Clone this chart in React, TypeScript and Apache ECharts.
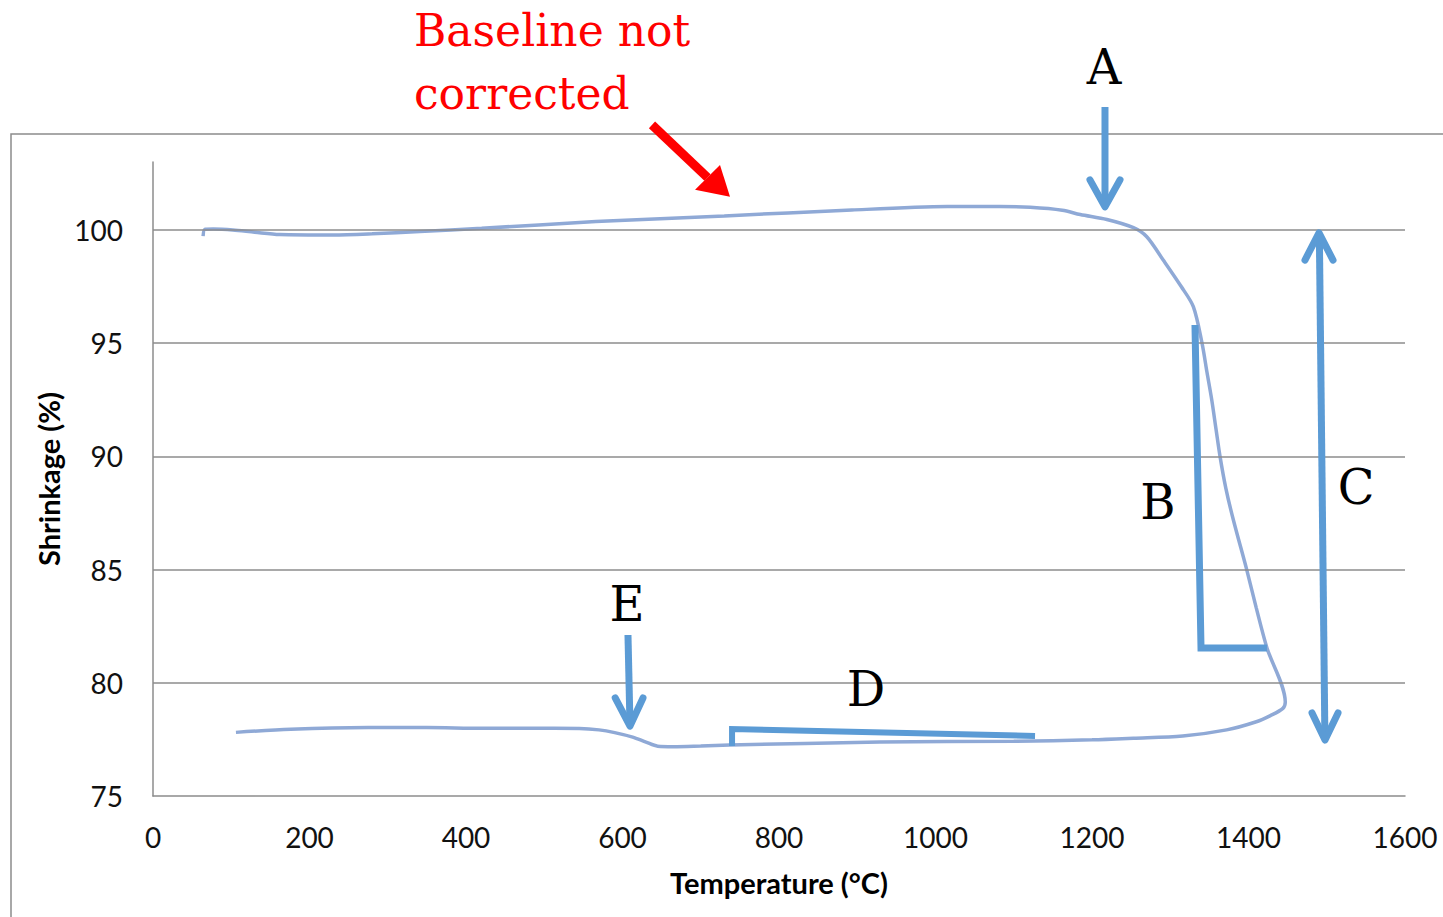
import React, { useEffect, useRef } from 'react';
import * as echarts from 'echarts';

// Heating branch (temperature °C, shrinkage %)
const heatingTemp = [64, 66.5, 77, 102, 130, 162, 230, 280, 341, 420, 566, 730, 893, 1015, 1082, 1121, 1162, 1185, 1219, 1253, 1270, 1291, 1314, 1329.5, 1340.6, 1347, 1353, 1358.5, 1363.6, 1371, 1380.6, 1397.7, 1410, 1423.6, 1447];
const heatingShrink = [99.73, 100.03, 100.04, 100.0, 99.9, 99.8, 99.78, 99.83, 99.93, 100.07, 100.37, 100.62, 100.88, 101.03, 101.04, 101.0, 100.87, 100.68, 100.46, 100.1, 99.7, 98.67, 97.5, 96.61, 95.0, 93.7, 92.5, 91.2, 90.0, 88.6, 87.2, 85.0, 83.3, 81.54, 79.15];
// Cooling branch
const coolingTemp = [1444, 1428, 1410, 1372, 1316, 1253, 1200, 1100, 929, 737, 700, 665, 645, 630, 613, 590, 570, 545, 480, 421, 350, 275, 176, 106];
const coolingShrink = [78.87, 78.55, 78.28, 77.92, 77.65, 77.55, 77.48, 77.42, 77.38, 77.25, 77.21, 77.18, 77.2, 77.38, 77.6, 77.8, 77.92, 77.98, 77.99, 77.99, 78.02, 78.02, 77.95, 77.81];

const gridLevels = [80, 85, 90, 95, 100];

// Annotation letters: [label, temperature, shrinkage]
const letterLabels = ['A', 'B', 'C', 'D', 'E'];
const letterTemp = [1215.3, 1284.3, 1537.4, 911.2, 605.8];
const letterShrink = [107.2, 87.99, 88.65, 79.73, 83.48];

const BLUE = '#5B9BD5';
const CURVE = '#8FA9D6';
const GRID = '#8C8C8C';

export default function App() {
  const ref = useRef<HTMLDivElement>(null);
  useEffect(() => {
    document.body.style.margin = '0';
    const chart = echarts.init(ref.current!, null, { renderer: 'svg' });
    const curve = [
      ...heatingTemp.map((t, i) => [t, heatingShrink[i]]),
      ...coolingTemp.map((t, i) => [t, coolingShrink[i]]),
    ];
    chart.setOption({
      animation: false,
      backgroundColor: '#ffffff',
      grid: { left: 153, right: 38, top: 162, bottom: 121 },
      xAxis: {
        type: 'value',
        min: 0,
        max: 1600,
        interval: 200,
        name: 'Temperature (°C)',
        nameLocation: 'middle',
        nameGap: 72,
        nameTextStyle: { fontFamily: 'Lato', fontWeight: 'bold', fontSize: 29, color: '#000' },
        axisLine: { show: true, lineStyle: { color: GRID, width: 1.5 } },
        axisTick: { show: false },
        splitLine: { show: false },
        axisLabel: { fontFamily: 'Lato', fontSize: 28, color: '#111', margin: 27, formatter: (v: number) => String(v) },
      },
      yAxis: {
        type: 'value',
        min: 75,
        max: 103,
        interval: 5,
        name: 'Shrinkage (%)',
        nameLocation: 'middle',
        nameGap: 79,
        nameTextStyle: { fontFamily: 'Lato', fontWeight: 'bold', fontSize: 29, color: '#000' },
        axisLine: { show: true, lineStyle: { color: GRID, width: 1.5 } },
        axisTick: { show: false },
        splitLine: { show: false },
        axisLabel: {
          fontFamily: 'Lato',
          fontSize: 28,
          color: '#111',
          margin: 30,
          formatter: (v: number) => (v % 5 === 0 ? String(v) : ''),
        },
      },
      series: [
        {
          type: 'line',
          data: [],
          z: 1,
          silent: true,
          markLine: {
            silent: true,
            symbol: ['none', 'none'],
            label: { show: false },
            lineStyle: { color: GRID, width: 1.5, type: 'solid' },
            data: gridLevels.map((v) => ({ yAxis: v })),
          },
        },
        {
          type: 'line',
          data: curve,
          z: 3,
          smooth: 0.3,
          showSymbol: false,
          clip: false,
          lineStyle: { color: CURVE, width: 3.5 },
        },
      ],
    });

    const P = (x: number, y: number) => chart.convertToPixel({ gridIndex: 0 }, [x, y]) as number[];
    const blueLine = (pts: number[][], w = 7, cap = 'round', join = 'round') => ({
      type: 'polyline',
      z: 10,
      silent: true,
      shape: { points: pts.map((p) => P(p[0], p[1])) },
      style: { stroke: BLUE, lineWidth: w, fill: null, lineCap: cap, lineJoin: join },
    });

    const graphics: any[] = [
      {
        type: 'rect',
        z: 0,
        silent: true,
        shape: { x: 11, y: 134, width: 1490, height: 840 },
        style: { fill: null, stroke: GRID, lineWidth: 1.5 },
      },
      // A arrow
      blueLine([[1216.6, 105.43], [1216.6, 101.3]], 7, 'butt'),
      blueLine([[1197.4, 102.21], [1216.6, 101.02], [1235.8, 102.21]]),
      // E arrow
      blueLine([[607.0, 82.11], [609.4, 78.4]], 7, 'butt'),
      blueLine([[590.7, 79.33], [609.6, 78.09], [626.2, 79.33]]),
      // C double arrow
      blueLine([[1490.6, 99.6], [1497.6, 77.7]], 7, 'butt'),
      blueLine([[1472.2, 98.67], [1490.1, 99.87], [1508.0, 98.67]]),
      blueLine([[1481.2, 78.67], [1497.8, 77.47], [1514.4, 78.67]]),
      // B bracket
      blueLine([[1331.6, 95.8], [1339.3, 81.54], [1423.6, 81.54]], 7, 'butt', 'miter'),
      // D bracket
      blueLine([[740.0, 77.21], [740.0, 77.96], [1127.2, 77.65]], 6, 'butt', 'miter'),
      // red arrow
      {
        type: 'line',
        z: 10,
        silent: true,
        shape: (() => {
          const a = P(637.7, 104.64);
          const b = P(708.6, 102.32);
          return { x1: a[0], y1: a[1], x2: b[0], y2: b[1] };
        })(),
        style: { stroke: '#FF0000', lineWidth: 9 },
      },
      {
        type: 'polygon',
        z: 10,
        silent: true,
        shape: { points: [P(737.4, 101.46), P(692.7, 101.77), P(724.6, 102.87)] },
        style: { fill: '#FF0000' },
      },
      {
        type: 'text',
        z: 10,
        silent: true,
        x: P(333.5, 108.81)[0],
        y: P(333.5, 108.81)[1],
        style: {
          text: 'Baseline not',
          fill: '#FF0000',
          font: '44px "DejaVu Serif"',
          align: 'left',
          verticalAlign: 'middle',
        },
      },
      {
        type: 'text',
        z: 10,
        silent: true,
        x: P(333.5, 106.03)[0],
        y: P(333.5, 106.03)[1],
        style: {
          text: 'corrected',
          fill: '#FF0000',
          font: '44px "DejaVu Serif"',
          align: 'left',
          verticalAlign: 'middle',
        },
      },
      ...letterLabels.map((l, i) => {
        const p = P(letterTemp[i], letterShrink[i]);
        return {
          type: 'text',
          z: 10,
          silent: true,
          x: p[0],
          y: p[1],
          style: {
            text: l,
            fill: '#000',
            font: '48px "DejaVu Serif"',
            align: 'center',
            verticalAlign: 'middle',
          },
        };
      }),
    ];
    chart.setOption({ graphic: graphics });
    return () => chart.dispose();
  }, []);
  return <div ref={ref} style={{ width: 1443, height: 917 }} />;
}
